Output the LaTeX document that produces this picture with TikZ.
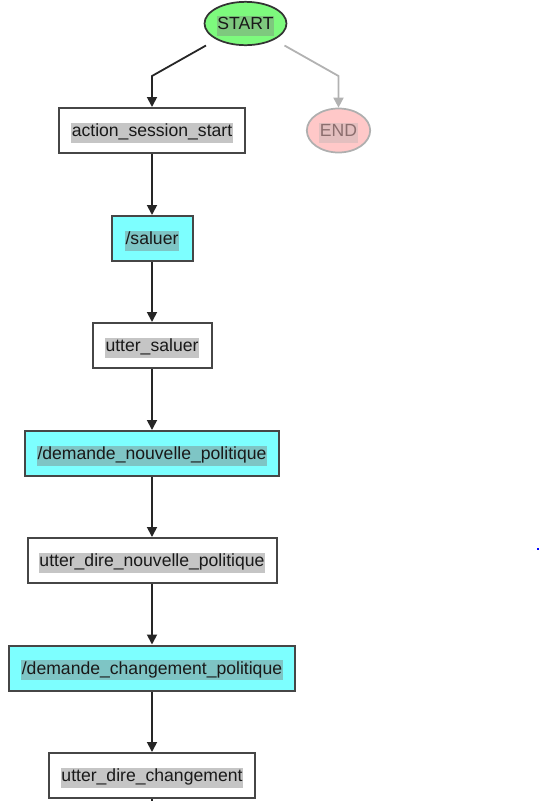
\documentclass[tikz,border=0pt]{standalone}
\usepackage{fontspec}
\setmainfont{Liberation Sans}
\usetikzlibrary{shapes.geometric,arrows.meta}
\definecolor{startg}{RGB}{125,250,125}
\definecolor{intentc}{RGB}{125,255,255}
\definecolor{endr}{RGB}{255,200,200}
\definecolor{endb}{RGB}{175,175,175}
\definecolor{endt}{RGB}{140,110,110}
\definecolor{boxb}{RGB}{70,70,70}
\definecolor{txt}{RGB}{25,25,25}
\tikzset{
  basebox/.style={rectangle, draw=boxb, line width=1.5pt, minimum height=33.75pt, inner sep=0pt},
  actbox/.style={basebox, fill=white},
  intbox/.style={basebox, fill=intentc},
  hl/.style={fill=gray, fill opacity=0.45, text opacity=1, inner xsep=0.6pt, inner ysep=1pt, text height=9.8pt, text depth=3.4pt, text=txt, font=\fontsize{13.2}{15}\selectfont, yshift=-1.6pt},
  edge/.style={draw=black!85, line width=1.35pt, -{Triangle[length=7.5pt,width=7.5pt]}},
  greyedge/.style={draw=black!30, line width=1.35pt, -{Triangle[length=7.5pt,width=7.5pt]}},
}
\begin{document}
\begin{tikzpicture}[x=0.75pt,y=-0.75pt]
\useasboundingbox (0,0) rectangle (540,801);
% START / END
\node[ellipse, draw=black!80, line width=1.3pt, fill=startg, minimum width=61.5pt, minimum height=32.5pt, inner sep=0pt] (start) at (245.5,23.5) {};
\node[hl, fill opacity=0.4] (startt) at (start.center) {START};
\node[ellipse, draw=endb, line width=1.3pt, fill=endr, minimum width=47.5pt, minimum height=33pt, inner sep=0pt] (end) at (338.5,130.5) {};
\node[hl, fill=endb, fill opacity=0.35, text=endt] (endt) at (end.center) {\textcolor{endt}{END}};
% boxes
\node[actbox, minimum width=139.5pt] (a1) at (152,130.5) {};
\node[hl] at (a1.center) {action\_session\_start};
\node[intbox, minimum width=60.75pt] (i1) at (152,238.5) {};
\node[hl] at (i1.center) {/saluer};
\node[actbox, minimum width=89.25pt] (a2) at (152,345.5) {};
\node[hl] at (a2.center) {utter\_saluer};
\node[intbox, minimum width=190.5pt] (i2) at (152,453.5) {};
\node[hl] at (i2.center) {/demande\_nouvelle\_politique};
\node[actbox, minimum width=186.75pt] (a3) at (152,560.5) {};
\node[hl] at (a3.center) {utter\_dire\_nouvelle\_politique};
\node[intbox, minimum width=214.5pt] (i3) at (152,668) {};
\node[hl] at (i3.center) {/demande\_changement\_politique};
\node[actbox, minimum width=154.5pt] (a4) at (152,775.5) {};
\node[hl] at (a4.center) {utter\_dire\_changement};
\coordinate (below) at (152,803);
\coordinate (s1) at (206,45.5);
\coordinate (s2) at (284.5,45.5);
% edges
\draw[edge] (s1) -- (152,76) -- (a1.north);
\draw[greyedge] (s2) -- (338.5,76) -- (end.north);
\draw[edge] (a1) -- (i1);
\draw[edge] (i1) -- (a2);
\draw[edge] (a2) -- (i2);
\draw[edge] (i2) -- (a3);
\draw[edge] (a3) -- (i3);
\draw[edge] (i3) -- (a4);
\draw[draw=black!85, line width=1.35pt] (a4.south) -- (below);
% stray dot
\fill[blue] (537,547.5) rectangle (539,549.5);
\end{tikzpicture}
\end{document}
